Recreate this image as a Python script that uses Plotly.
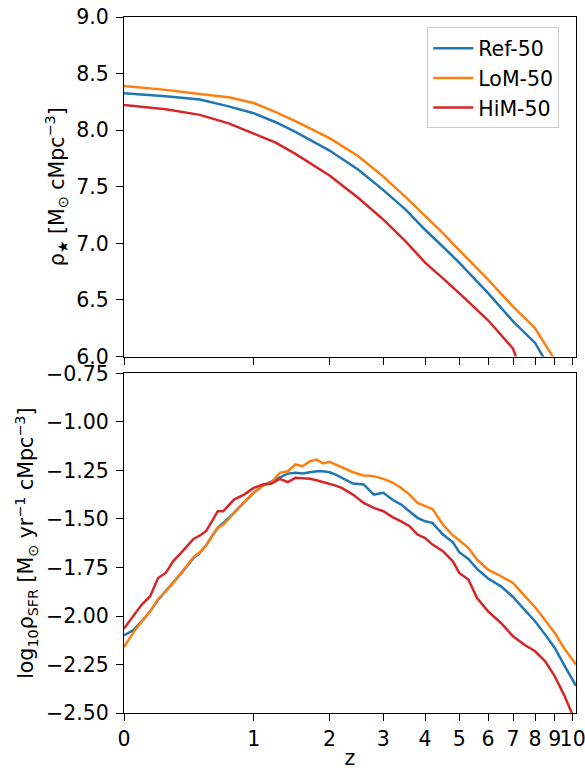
import numpy as np
import plotly.graph_objects as go
from plotly.subplots import make_subplots

# ---- data ----
names = ["Ref-50", "LoM-50", "HiM-50"]
colors = ["#1f77b4", "#ff7f0e", "#d62728"]

z_mass = [0, 0.25, 0.5, 0.75, 1.0, 1.25, 1.5, 1.75, 2.0, 2.5, 3.0, 3.5, 4.0, 4.5,
          5.0, 6.0, 7.0, 8.0, 9.0, 10.0]
mass_ref = [8.327, 8.30, 8.27, 8.21, 8.15, 8.07, 7.985, 7.90, 7.82, 7.65, 7.47, 7.30,
            7.12, 6.97, 6.83, 6.56, 6.31, 6.12, 5.83, 5.55]
mass_lom = [8.39, 8.356, 8.32, 8.29, 8.24, 8.16, 8.08, 8.00, 7.93, 7.77, 7.59, 7.41,
            7.24, 7.09, 6.94, 6.68, 6.44, 6.25, 5.97, 5.65]
mass_him = [8.223, 8.185, 8.135, 8.06, 7.97, 7.89, 7.79, 7.69, 7.60, 7.40, 7.21, 7.02,
            6.83, 6.69, 6.56, 6.32, 6.07, 5.50, 5.30, 5.10]

z_sfr = [0.0, 0.05, 0.1, 0.15, 0.2, 0.25, 0.3, 0.35, 0.4, 0.45, 0.5, 0.55, 0.6, 0.65,
         0.7, 0.8, 0.9, 1.0, 1.1, 1.2, 1.3, 1.4, 1.5, 1.6, 1.7, 1.8, 1.9, 2.0, 2.1,
         2.2, 2.4, 2.6, 2.8, 3.0, 3.2, 3.4, 3.6, 3.8, 4.0, 4.2, 4.5, 4.8, 5.0, 5.3,
         5.6, 6.0, 6.5, 7.0, 7.5, 8.0, 8.5, 9.0, 9.5, 10.0, 10.2]
sfr_ref = [-2.10, -2.074, -2.027, -1.976, -1.916, -1.873, -1.830, -1.787, -1.744,
           -1.701, -1.675, -1.637, -1.589, -1.546, -1.520, -1.469, -1.414, -1.365,
           -1.328, -1.305, -1.283, -1.266, -1.262, -1.266, -1.259, -1.254, -1.254,
           -1.259, -1.271, -1.288, -1.317, -1.322, -1.374, -1.365, -1.401, -1.426,
           -1.460, -1.494, -1.512, -1.520, -1.580, -1.620, -1.671, -1.706, -1.757,
           -1.807, -1.847, -1.902, -1.967, -2.027, -2.096, -2.165, -2.251, -2.33, -2.36]
sfr_lom = [-2.16, -2.087, -2.027, -1.976, -1.912, -1.873, -1.830, -1.787, -1.740,
           -1.696, -1.671, -1.637, -1.589, -1.546, -1.529, -1.469, -1.414, -1.365,
           -1.328, -1.310, -1.262, -1.254, -1.219, -1.228, -1.202, -1.194, -1.214,
           -1.205, -1.219, -1.231, -1.259, -1.276, -1.279, -1.293, -1.312, -1.340,
           -1.374, -1.417, -1.434, -1.448, -1.529, -1.584, -1.610, -1.649, -1.709,
           -1.761, -1.795, -1.830, -1.895, -1.955, -2.022, -2.088, -2.165, -2.225, -2.25]
sfr_him = [-2.065, -2.001, -1.941, -1.898, -1.804, -1.778, -1.718, -1.680, -1.640,
           -1.603, -1.585, -1.563, -1.512, -1.460, -1.460, -1.400, -1.374, -1.34,
           -1.322, -1.317, -1.293, -1.310, -1.288, -1.291, -1.293, -1.300, -1.310,
           -1.317, -1.328, -1.340, -1.374, -1.417, -1.443, -1.460, -1.490, -1.512,
           -1.537, -1.580, -1.598, -1.632, -1.666, -1.718, -1.778, -1.812, -1.907,
           -1.976, -2.036, -2.105, -2.148, -2.182, -2.234, -2.311, -2.405, -2.51, -2.56]

x_tick_z = [0, 1, 2, 3, 4, 5, 6, 7, 8, 9, 10]
x_tick_labels = [str(v) for v in x_tick_z]
mass_ticks = [6.0, 6.5, 7.0, 7.5, 8.0, 8.5, 9.0]
sfr_ticks = [-2.50, -2.25, -2.00, -1.75, -1.50, -1.25, -1.00, -0.75]

z_max = 10.2

def lz(z):
    return np.log10(1.0 + np.asarray(z, dtype=float))

FONT = "DejaVu Sans"
FS = 20.5

fig = make_subplots(rows=2, cols=1, shared_xaxes=True, vertical_spacing=0.0244)

mass_series = [mass_ref, mass_lom, mass_him]
sfr_series = [sfr_ref, sfr_lom, sfr_him]
for name, col, m in zip(names, colors, mass_series):
    fig.add_trace(go.Scatter(x=lz(z_mass), y=m, mode="lines", name=name,
                             line=dict(color=col, width=2.5)),
                  row=1, col=1)
for name, col, s in zip(names, colors, sfr_series):
    fig.add_trace(go.Scatter(x=lz(z_sfr), y=s, mode="lines", name=name, showlegend=False,
                             line=dict(color=col, width=2.5)),
                  row=2, col=1)

axis_common = dict(showline=True, linecolor="black", linewidth=1.2, mirror=True,
                   ticks="outside", ticklen=7, tickwidth=1.2, tickcolor="black",
                   showgrid=False, zeroline=False,
                   tickfont=dict(family=FONT, size=FS, color="black"))

fig.update_xaxes(range=[0, float(lz(z_max))], tickmode="array", tickangle=0,
                 ticklabeloverflow="allow",
                 tickvals=list(lz(x_tick_z)), ticktext=x_tick_labels, **axis_common)
fig.update_xaxes(showticklabels=False, row=1, col=1)
fig.update_xaxes(title=dict(text="z", font=dict(family=FONT, size=FS, color="black"),
                            standoff=0), row=2, col=1)

fig.update_yaxes(range=[6.0, 9.0], tickmode="array", tickvals=mass_ticks,
                 ticktext=[f"{v:.1f}" for v in mass_ticks], ticklabelstandoff=3,
                 title=dict(text="ρ<sub>★</sub> [M<sub>⊙</sub> cMpc<sup>−3</sup>]",
                            font=dict(family=FONT, size=FS, color="black"), standoff=6),
                 row=1, col=1, **axis_common)
fig.update_yaxes(range=[-2.5, -0.75], tickmode="array", tickvals=sfr_ticks,
                 ticktext=[f"{v:.2f}".replace("-", "−") for v in sfr_ticks],
                 ticklabelstandoff=3,
                 title=dict(text="log<sub>10</sub>ρ<sub>SFR</sub> [M<sub>⊙</sub> yr<sup>−1</sup> cMpc<sup>−3</sup>]",
                            font=dict(family=FONT, size=FS, color="black"), standoff=6),
                 row=2, col=1, **axis_common)

fig.update_layout(
    width=585, height=774,
    margin=dict(l=124, r=9, t=17, b=61, autoexpand=False),
    paper_bgcolor="white", plot_bgcolor="white",
    font=dict(family=FONT, size=FS, color="black"),
    legend=dict(x=0.963, xanchor="right", y=0.985, yanchor="top",
                bgcolor="rgba(255,255,255,0.8)", bordercolor="#cccccc", borderwidth=1,
                font=dict(family=FONT, size=FS, color="black"),
                itemwidth=40, tracegroupgap=0),
    showlegend=True,
)

fig.write_html("out.html", config={"displayModeBar": False},
               post_script="document.body.style.margin='0px';document.body.style.overflow='hidden';")
